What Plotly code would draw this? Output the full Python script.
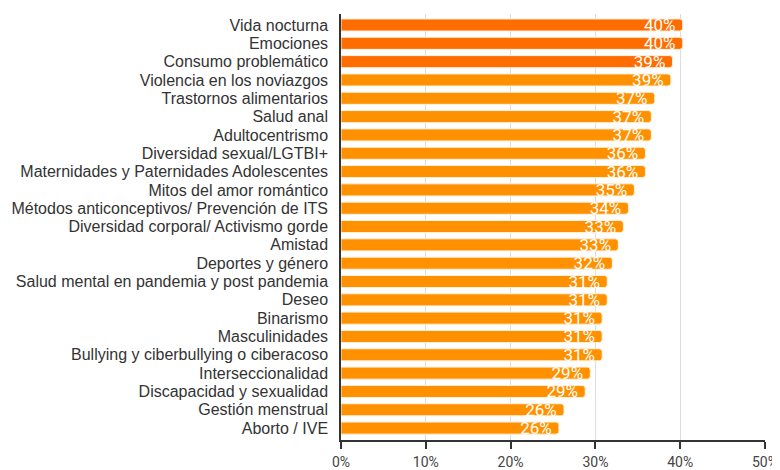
import plotly.graph_objects as go

temas = [
    "Vida nocturna", "Emociones", "Consumo problemático", "Violencia en los noviazgos",
    "Trastornos alimentarios", "Salud anal", "Adultocentrismo", "Diversidad sexual/LGTBI+",
    "Maternidades y Paternidades Adolescentes", "Mitos del amor romántico",
    "Métodos anticonceptivos/ Prevención de ITS", "Diversidad corporal/ Activismo gorde",
    "Amistad", "Deportes y género", "Salud mental en pandemia y post pandemia", "Deseo",
    "Binarismo", "Masculinidades", "Bullying y ciberbullying o ciberacoso",
    "Interseccionalidad", "Discapacidad y sexualidad", "Gestión menstrual", "Aborto / IVE",
]
porcentajes = [
    40.3, 40.3, 39.1, 38.9, 37.0, 36.6, 36.6, 35.9, 35.9, 34.6, 33.9, 33.3,
    32.7, 32.0, 31.4, 31.4, 30.8, 30.8, 30.8, 29.4, 28.8, 26.3, 25.7,
]
ejes_x = [0, 10, 20, 30, 40, 50]
destacados = 3  # los tres primeros en naranja oscuro

colores = ["#FF6D00" if i < destacados else "#FF9100" for i in range(len(temas))]

fig = go.Figure(go.Bar(
    x=porcentajes,
    y=temas,
    orientation="h",
    width=0.66,
    marker=dict(color=colores, cornerradius=3, line=dict(color="#FFF1DC", width=1)),
    text=[f"{v:.0f}%\u00a0" for v in porcentajes],
    textposition="inside",
    insidetextanchor="end",
    constraintext="none",
    textfont=dict(family="Roboto", size=17, color="white"),
    hoverinfo="skip",
))

# la página tiene 8px de margen en el body, por eso 772x462
fig.update_layout(
    width=772, height=462,
    margin=dict(l=333, r=15, t=6, b=30),
    plot_bgcolor="white",
    paper_bgcolor="white",
    showlegend=False,
    font=dict(family="Liberation Sans, Arial", size=16, color="#333333"),
)
fig.update_xaxes(
    range=[0, 50],
    tickvals=ejes_x,
    ticktext=[f"{v}%" for v in ejes_x],
    showgrid=True, gridcolor="#DDDDDD", gridwidth=1,
    zeroline=False,
    showline=True, linecolor="#333333", linewidth=1.5,
    ticks="outside", ticklen=7, tickcolor="#333333", tickwidth=1.5,
    tickfont=dict(family="Roboto", size=14, color="#444444"),
    ticklabelstandoff=1,
    automargin=False,
)
fig.update_yaxes(
    range=[len(temas) - 0.35, -0.6],
    tickmode="array", tickvals=temas, ticktext=temas,
    showline=True, linecolor="#333333", linewidth=1.5,
    ticks="", ticklabelstandoff=8,
    tickfont=dict(family="Liberation Sans, Arial", size=16, color="#333333"),
    automargin=False,
)

fig.write_html("out.html")
